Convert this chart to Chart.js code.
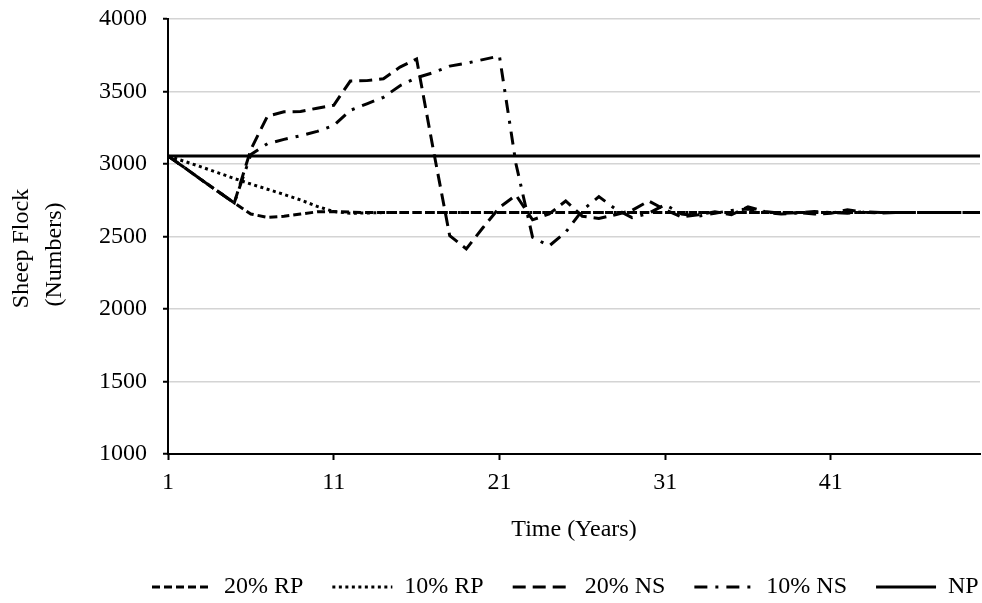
<!DOCTYPE html>
<html>
<head>
<meta charset="utf-8">
<title>Sheep Flock</title>
<script src="https://cdn.jsdelivr.net/npm/chart.js@4.4.1/dist/chart.umd.min.js"></script>
<style>
  html, body { margin: 0; padding: 0; background: #fff; }
  #wrap { width: 982px; height: 603px; position: relative; }
</style>
</head>
<body>
<div id="wrap"><canvas id="chartFlock"></canvas></div>
<script>
// categories (years) and axis ticks
const years = [1, 2, 3, 4, 5, 6, 7, 8, 9, 10, 11, 12, 13, 14, 15, 16, 17, 18, 19, 20,
  21, 22, 23, 24, 25, 26, 27, 28, 29, 30, 31, 32, 33, 34, 35, 36, 37, 38, 39, 40,
  41, 42, 43, 44, 45, 46, 47, 48, 49, 50];
const xTickValues = [1, 11, 21, 31, 41];
const yTickValues = [1000, 1500, 2000, 2500, 3000, 3500, 4000];

const seriesLabels = ['20% RP', '10% RP', '20% NS', '10% NS', 'NP'];

// values
const rp20 = [3055, 2975, 2892, 2812, 2732, 2655, 2632, 2640, 2655, 2670,
  2672, 2668, 2665, 2665, 2665, 2665, 2665, 2665, 2665, 2665,
  2665, 2665, 2665, 2665, 2665, 2665, 2665, 2665, 2665, 2665,
  2665, 2665, 2665, 2665, 2665, 2665, 2665, 2665, 2665, 2665,
  2665, 2665, 2665, 2665, 2665, 2665, 2665, 2665, 2665, 2665];
const rp10 = [3055, 3018, 2980, 2940, 2900, 2862, 2826, 2790, 2752, 2708,
  2672, 2660, 2662, 2665, 2665, 2665, 2665, 2665, 2665, 2665,
  2665, 2665, 2665, 2665, 2665, 2665, 2665, 2665, 2665, 2665,
  2665, 2665, 2665, 2665, 2665, 2665, 2665, 2665, 2665, 2665,
  2665, 2665, 2665, 2665, 2665, 2665, 2665, 2665, 2665, 2665];
const ns20 = [3055, 2975, 2892, 2812, 2732, 3100, 3330, 3360, 3362, 3385,
  3405, 3572, 3575, 3588, 3668, 3725, 3105, 2505, 2415, 2560,
  2700, 2785, 2615, 2655, 2745, 2640, 2625, 2650, 2680, 2745,
  2685, 2635, 2650, 2670, 2650, 2705, 2672, 2660, 2665, 2655,
  2660, 2685, 2668, 2662, 2665, 2665, 2665, 2665, 2665, 2665];
const ns10 = [3055, 2975, 2892, 2812, 2732, 3065, 3140, 3170, 3195, 3225,
  3265, 3370, 3415, 3460, 3540, 3595, 3630, 3675, 3695, 3720,
  3745, 3000, 2495, 2435, 2530, 2680, 2775, 2690, 2630, 2660,
  2720, 2655, 2640, 2660, 2680, 2690, 2668, 2655, 2662, 2672,
  2665, 2660, 2670, 2665, 2665, 2665, 2665, 2665, 2665, 2665];
const np = [3055, 3055, 3055, 3055, 3055, 3055, 3055, 3055, 3055, 3055,
  3055, 3055, 3055, 3055, 3055, 3055, 3055, 3055, 3055, 3055,
  3055, 3055, 3055, 3055, 3055, 3055, 3055, 3055, 3055, 3055,
  3055, 3055, 3055, 3055, 3055, 3055, 3055, 3055, 3055, 3055,
  3055, 3055, 3055, 3055, 3055, 3055, 3055, 3055, 3055, 3055];

const toPoints = (values) => values.map((v, i) => ({ x: years[i], y: v }));

function lineSet(label, values, dash) {
    return {
        label: label,
        data: toPoints(values),
        borderColor: '#000',
        backgroundColor: '#000',
        borderWidth: 3,
        borderDash: dash,
        pointRadius: 0,
        fill: false,
        tension: 0
    };
}

// legend sits under the plot, not centred on the page
const legendShift = {
    id: 'legendShift',
    afterLayout(chart) {
        const lg = chart.legend;
        if (lg) { lg.left += 123; lg.right += 123; }
    }
};

Chart.defaults.font.family = "'Liberation Serif', 'Times New Roman', serif";
Chart.defaults.color = '#000';

new Chart(document.getElementById('chartFlock'), {
    type: 'line',
    data: {
        datasets: [
            lineSet(seriesLabels[0], rp20, [8, 4]),
            lineSet(seriesLabels[1], rp10, [3, 3.5]),
            lineSet(seriesLabels[2], ns20, [13, 7]),
            lineSet(seriesLabels[3], ns10, [13, 8, 3, 8]),
            lineSet(seriesLabels[4], np, [])
        ]
    },
    plugins: [legendShift],
    options: {
        responsive: true,
        maintainAspectRatio: false,
        animation: false,
        events: [],
        layout: { padding: { top: 19, right: 2, left: 0, bottom: 0 } },
        scales: {
            x: {
                type: 'linear',
                min: 1,
                max: 50,
                afterBuildTicks: (scale) => { scale.ticks = xTickValues.map(v => ({ value: v })); },
                afterFit: (scale) => { scale.height = 92; },
                ticks: { font: { size: 24 }, color: '#000', padding: 8, maxRotation: 0 },
                grid: { drawOnChartArea: false, tickLength: 6, tickColor: '#000', tickWidth: 2 },
                border: { color: '#000', width: 2 },
                title: {
                    display: true,
                    text: 'Time (Years)',
                    font: { size: 24 },
                    color: '#000',
                    padding: { top: 0, bottom: 2 }
                }
            },
            y: {
                min: 1000,
                max: 4000,
                afterBuildTicks: (scale) => { scale.ticks = yTickValues.map(v => ({ value: v })); },
                afterFit: (scale) => {
                    scale.width = 168;
                    scale.paddingTop = 0;
                    scale.paddingBottom = 0;
                },
                ticks: { font: { size: 24 }, color: '#000', padding: 16, callback: (v) => String(v) },
                grid: { color: '#d4d4d4', lineWidth: 1.5, tickLength: 5, tickColor: '#000', tickWidth: 2 },
                border: { color: '#000', width: 2 },
                title: {
                    display: true,
                    // trailing spaces push both lines down a little, as in the figure
                    text: ['Sheep Flock    ', '(Numbers)      '],
                    font: { size: 24, lineHeight: 1.35 },
                    color: '#000',
                    padding: { top: 6, bottom: 0 }
                }
            }
        },
        plugins: {
            tooltip: { enabled: false },
            legend: {
                position: 'bottom',
                align: 'start',
                maxHeight: 57,
                labels: {
                    usePointStyle: true,
                    pointStyle: 'line',
                    pointStyleWidth: 60,
                    padding: 29,
                    color: '#000',
                    font: { size: 24 },
                    generateLabels: (chart) => Chart.defaults.plugins.legend.labels.generateLabels(chart)
                        .map((item, i) => Object.assign(item, {
                            lineDash: chart.data.datasets[i].borderDash,
                            lineWidth: 3,
                            strokeStyle: '#000'
                        }))
                }
            }
        }
    }
});
</script>
</body>
</html>
